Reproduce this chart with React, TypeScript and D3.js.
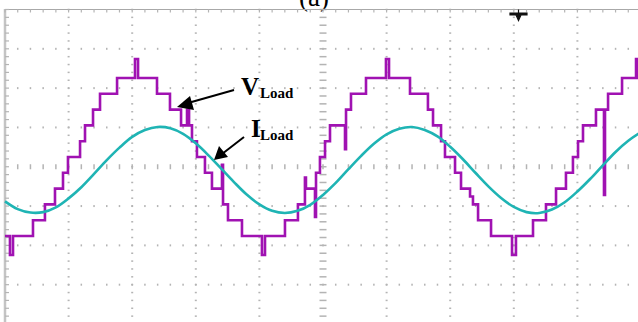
import React from "react";
import * as d3 from "d3";

// scope: 5 ms/div, 10 div across, 8 div down
const timeDomain = [0, 50];
const divDomain = [-4, 4];

// V_Load: step waveform, switching instants (ms) and level (number of cells) after each
const voltTimes = [
  0, 0.39, 0.63, 2.2, 3.14, 3.93, 4.56, 4.95, 5.9, 6.29, 6.92, 7.47, 8.81, 10.22, 10.46,
  11.95, 12.97, 13.84, 14.31, 14.47, 14.7, 15.09, 15.72, 16.27, 17.06, 17.14, 17.53, 18.63,
  20.2, 20.44, 22.01, 23.03, 23.58, 23.66, 24.37, 24.45, 24.76, 25.16, 25.55, 26.73, 26.81,
  27.2, 28.38, 29.95, 30.19, 31.84, 33.25, 33.65, 34.28, 34.59, 35.38, 35.85, 36.56, 36.79,
  37.19, 38.21, 39.86, 40.17, 41.51, 42.53, 43.32, 44.1, 44.65, 45.05, 45.44, 46.46, 47.09,
  47.17, 47.41, 48.51, 49.61, 49.76, 50,
];
const voltLevels = [
  -5, -6.2, -5, -4, -3, -2, -1, 0, 1, 2, 3, 4, 5, 6.2, 5,
  4, 3, 2, 3, 2, 1, 0, -1, -2, -0.5, -3, -4, -5,
  -6.2, -5, -4, -3, -1.3, -2, -3.8, -1, 0, 1, 2, 0.5, 3,
  4, 5, 6.2, 5, 4, 3, 2, 1, 0, -1, -2, -2.5, -3,
  -4, -5, -6.2, -5, -4, -3, -2, -1, 0, 1, 2, 3, -2.4,
  3, 4, 5, 6.2, 5, 5,
];

// I_Load: sampled every 1 ms (A)
const currentStepMs = 1;
const currentValues = [
  -7.3, -9.1, -9.9, -9.8, -8.7, -6.6, -4.0, -0.9, 2.3, 5.2, 7.7, 9.3, 10.0, 9.7, 8.4, 6.2,
  3.4, 0.3, -2.8, -5.7, -8.0, -9.5, -10.0, -9.5, -8.1, -5.8, -3.0, 0.2, 3.3, 6.1, 8.3, 9.6,
  10.0, 9.3, 7.8, 5.4, 2.5, -0.7, -3.8, -6.5, -8.6, -9.8, -10.0, -9.2, -7.5, -5.0, -2.1, 1.1,
  4.2, 6.8, 8.8,
];

export default function App() {
  const W = 638, H = 322;
  const x = d3.scaleLinear().domain(timeDomain).range([5, 641]);
  const yDiv = d3.scaleLinear().domain(divDomain).range([324, 9.5]);
  const yV = d3.scaleLinear().domain([-5, 5]).range([236, 78]);
  const yI = d3.scaleLinear().domain([-10, 10]).range([213, 127]);

  const majorX = d3.range(1, 10).map(i => i * 5);
  const minorX = d3.range(0, 51, 1);
  const majorY = d3.range(-3, 4, 1);
  const minorY = d3.range(-20, 21).map(i => i / 5);

  const vLine = d3.line<number>()
    .x((_, i) => x(voltTimes[i]))
    .y(d => yV(d))
    .curve(d3.curveStepAfter);
  const iLine = d3.line<number>()
    .x((_, i) => x(i * currentStepMs))
    .y(d => yI(d))
    .curve(d3.curveCatmullRom);

  const grid = "#b4b4b4";
  const dots: JSX.Element[] = [];
  majorX.forEach(t => {
    const wide = t === 25;
    minorY.forEach((v, j) => {
      dots.push(
        <rect key={`vx${t}-${j}`} x={x(t) - (wide ? 3.5 : 1)} y={yDiv(v) - 0.75}
          width={wide ? 7 : 2} height={1.5} fill={grid} />
      );
    });
  });
  majorY.forEach(v => {
    const tall = v === 0;
    minorX.forEach(t => {
      dots.push(
        <rect key={`hy${v}-${t}`} x={x(t) - 0.75} y={yDiv(v) - (tall ? 2.5 : 1)}
          width={1.5} height={tall ? 5 : 2} fill={grid} />
      );
    });
  });

  return (
    <svg width={W} height={H} style={{ position: "absolute", left: 0, top: 0, background: "#fff" }}>
      <text x={314} y={6} textAnchor="middle" fontFamily="Liberation Serif" fontSize={27}>(a)</text>
      {dots}
      {/* frame with minor ticks */}
      <line x1={5} x2={W} y1={9.5} y2={9.5} stroke="#a8a8a8" strokeWidth={1} />
      <line x1={5} x2={5} y1={9} y2={H} stroke="#c4c4c4" strokeWidth={2.5} />
      {minorX.map(t => (
        <line key={`tt${t}`} x1={x(t)} x2={x(t)} y1={9.5} y2={12.5} stroke={grid} strokeWidth={1.2} />
      ))}
      {minorY.map((v, j) => (
        <line key={`lt${j}`} x1={5} x2={9} y1={yDiv(v)} y2={yDiv(v)} stroke={grid} strokeWidth={1.2} />
      ))}
      {/* trigger marker */}
      <path d="M518.5,9.5 L518.5,13 M510,13 L527,13 L527,15 L521,15 L518.5,20.5 L516,15 L510,15 Z"
        fill="#111" stroke="#111" strokeWidth={1.2} />

      <path d={vLine(voltLevels) || ""} fill="none" stroke="#a012b2" strokeWidth={2.6} strokeLinejoin="miter" />
      <path d={iLine(currentValues) || ""} fill="none" stroke="#1fb4b4" strokeWidth={2.6} />

      {/* annotations */}
      <g fontFamily="Liberation Serif" fontWeight="bold" fill="#000">
        <text x={241} y={95} fontSize={25}>V</text>
        <text x={260} y={98} fontSize={15}>Load</text>
        <text x={251} y={137} fontSize={25}>I</text>
        <text x={260} y={140} fontSize={15}>Load</text>
      </g>
      <line x1={234} y1={90} x2={188} y2={103} stroke="#000" strokeWidth={2} />
      <path d="M177,107 L190,96 L194,110 Z" fill="#000" />
      <line x1={244} y1={137} x2={222} y2={154} stroke="#000" strokeWidth={2} />
      <path d="M214,160 L219,146 L228,157 Z" fill="#000" />
    </svg>
  );
}
